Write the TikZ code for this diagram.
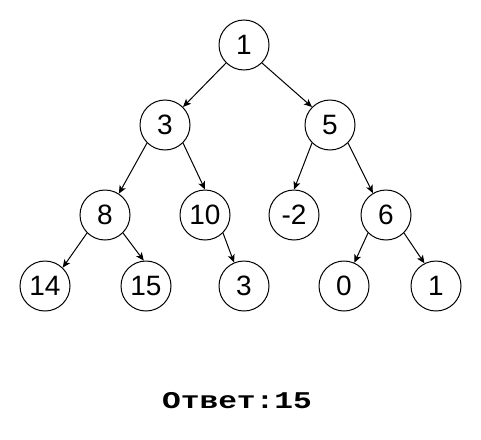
\documentclass[tikz,border=0pt]{standalone}
\usepackage{fontspec}
\setmainfont{Liberation Sans}
\newfontfamily\answerfont{Liberation Mono}
\usetikzlibrary{arrows.meta}

\begin{document}
\begin{tikzpicture}[%
    x=1pt, y=-1pt,
    ->,
    >={Stealth[length=8pt,width=7pt,inset=2pt]},
    line width=1pt,
    vertex/.style={%
      circle,
      minimum size=50pt,
      inner sep=0pt,
      draw,
      font=\fontsize{28}{30}\selectfont
    }
  ]
  \useasboundingbox (0,0) rectangle (481,439);
  % Nodes: 
    \node[vertex] (A) at (244,45)  {1};
    \node[vertex] (B) at (165,125) {3};
    \node[vertex] (C) at (330,125) {5};
    \node[vertex] (D) at (105,215) {8};
    \node[vertex] (E) at (205,215) {10};
    \node[vertex] (F) at (294,215) {-2};
    \node[vertex] (G) at (386,215) {6};
    \node[vertex] (H) at (45,286)  {14};
    \node[vertex] (I) at (146,286) {15};
    \node[vertex] (J) at (244,286) {3};
    \node[vertex] (K) at (344,286) {0};
    \node[vertex] (L) at (436,286) {1};
    \node[anchor=base, font=\answerfont\bfseries\fontsize{24}{26}\selectfont]
      (ans) at (237,408) {\scalebox{1.3}[1]{Ответ:15}};
  % Paths: 
    \path (A.south west) edge (B.45)
          (A.south east) edge (C.135)
          (B.south west) edge (D.57)
          (B.south east) edge (E.90)
          (C.south west) edge (F.90)
          (C.south east) edge (G.121)
          (D.south west) edge (H.46)
          (D.south east) edge (I.95)
          (E.south east) edge (J.113)
          (G.south west) edge (K.66)
          (G.south east) edge (L.117);
\end{tikzpicture}
\end{document}
